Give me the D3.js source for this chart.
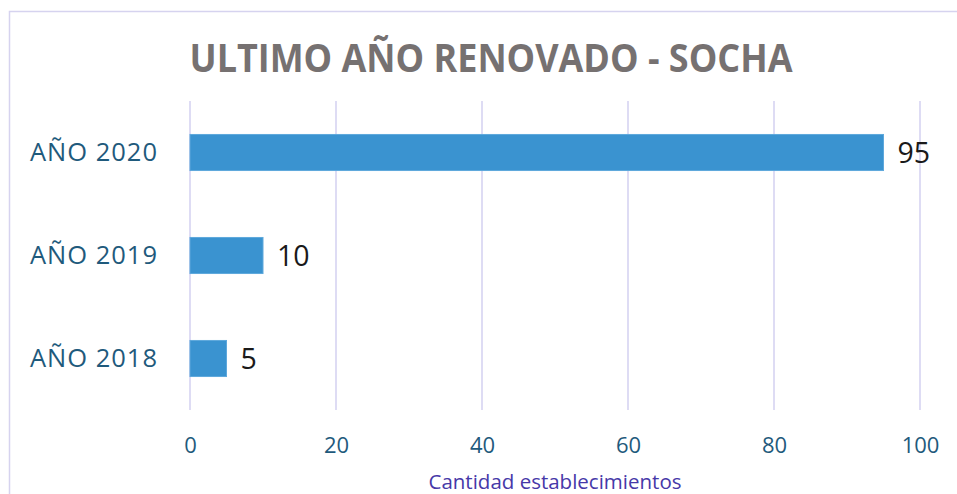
<!DOCTYPE html>
<html><head><meta charset="utf-8">
<script src="https://cdn.jsdelivr.net/npm/d3@7"></script>
<style>body{margin:0;background:#fff}svg{display:block}</style>
</head><body>
<script>
const categories = ["AÑO 2020", "AÑO 2019", "AÑO 2018"];
const values = [95, 10, 5];
const xTicks = [0, 20, 40, 60, 80, 100];
const title = "ULTIMO AÑO RENOVADO - SOCHA";
const xTitle = "Cantidad establecimientos";

const W = 957, H = 494;
const svg = d3.select("body").append("svg").attr("width", W).attr("height", H);

// chart border
svg.append("path").attr("d", `M9.5,${H}V11.5H${W}`).attr("fill", "none").attr("stroke", "#d6d3ef").attr("stroke-width", 1.5);

const x = d3.scaleLinear().domain([0, 100]).range([190, 920]);
const y = d3.scaleBand().domain(categories).range([101, 410]).paddingInner(0.65).paddingOuter(0.325);

// gridlines
svg.append("g").selectAll("line").data(xTicks).join("line")
  .attr("x1", d => x(d)).attr("x2", d => x(d)).attr("y1", 101).attr("y2", 410)
  .attr("stroke", "#d3d0f0").attr("stroke-width", 1.5);

// bars
svg.append("g").selectAll("rect").data(values).join("rect")
  .attr("x", x(0)).attr("y", (d, i) => y(categories[i]))
  .attr("width", d => x(d) - x(0)).attr("height", y.bandwidth())
  .attr("fill", "#3a93d0").attr("stroke", "#5ea8dc").attr("stroke-width", 1);

// value labels
svg.append("g").selectAll("text").data(values).join("text")
  .attr("x", d => x(d) + 14).attr("y", (d, i) => y(categories[i]) + y.bandwidth() / 2)
  .attr("dy", "0.36em").attr("font-family", "Open Sans, sans-serif").attr("font-size", 28.5)
  .attr("fill", "#1a1a1a").text(d => d);

// y axis labels
const yAxis = d3.axisLeft(y).tickSize(0).tickPadding(0);
const gy = svg.append("g").attr("transform", "translate(158,0)").call(yAxis);
gy.select(".domain").remove();
gy.selectAll("text").attr("font-family", "Open Sans, sans-serif").attr("font-size", 25.5)
  .attr("letter-spacing", "1px")
  .attr("fill", "#1f5a7c").attr("dy", "0.33em");

// x axis tick labels
const xAxis = d3.axisBottom(x).tickValues(xTicks).tickSize(0).tickPadding(0);
const gx = svg.append("g").attr("transform", "translate(0,453)").call(xAxis);
gx.select(".domain").remove();
gx.selectAll("text").attr("font-family", "Open Sans, sans-serif").attr("font-size", 22)
  .attr("fill", "#1f5a7c").attr("dy", "0");

// x axis title
svg.append("text").attr("x", 555).attr("y", 489).attr("text-anchor", "middle")
  .attr("font-family", "Open Sans, sans-serif").attr("font-size", 20.5).attr("fill", "#4638a8").text(xTitle);

// title
const t = svg.append("text").attr("x", 491).attr("y", 72).attr("text-anchor", "middle")
  .attr("font-family", "Open Sans, sans-serif").attr("font-weight", "bold").attr("font-size", 39)
  .attr("fill", "#767171").text(title);
const tw = t.node().getComputedTextLength();
const sx = 603 / tw;
t.attr("transform", `translate(491,0) scale(${sx},1) translate(-491,0)`);
</script>
</body></html>
